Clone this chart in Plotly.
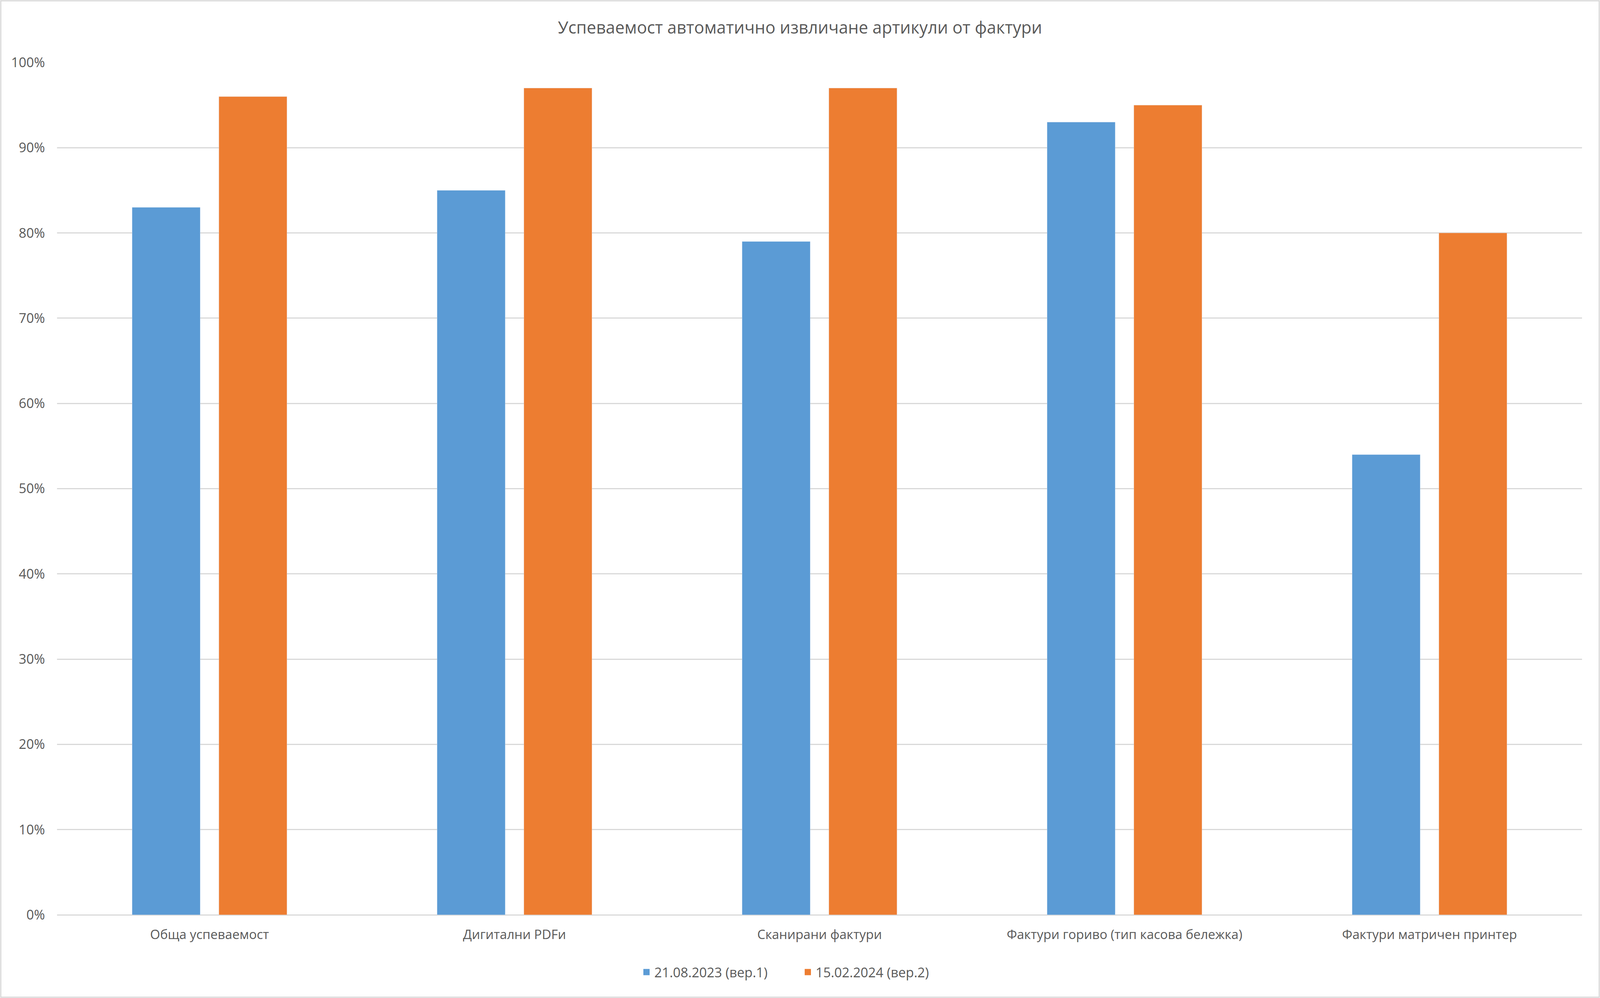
import plotly.graph_objects as go

categories = ["Обща успеваемост", "Дигитални PDFи", "Сканирани фактури",
              "Фактури гориво (тип касова бележка)", "Фактури матричен принтер"]
series_names = ["21.08.2023 (вер.1)", "15.02.2024 (вер.2)"]
series_colors = ["#5B9BD5", "#ED7D31"]
v1 = [0.83, 0.85, 0.79, 0.93, 0.54]
v2 = [0.96, 0.97, 0.97, 0.95, 0.80]
y_ticks = [0, 0.1, 0.2, 0.3, 0.4, 0.5, 0.6, 0.7, 0.8, 0.9, 1.0]

# the page viewport is 4096x2556 css px, so the figure fills that
W, H = 4096, 2556
ml, mr, mt, mb = 146, 46, 160, 213
grey_text = "#595959"
grid = "#D9D9D9"
font = "Open Sans"

fig = go.Figure()
fig.add_trace(go.Bar(x=categories, y=v1, name=series_names[0],
                     marker_color=series_colors[0], showlegend=False))
fig.add_trace(go.Bar(x=categories, y=v2, name=series_names[1],
                     marker_color=series_colors[1], showlegend=False))
# legend keys as bigger squares
for name, col in zip(series_names, series_colors):
    fig.add_trace(go.Scatter(x=[None], y=[None], mode="markers", name=name,
                             marker=dict(symbol="square", size=16, color=col)))

pw = W - ml - mr
ph = H - mt - mb
# chart-area border
fig.add_shape(type="rect", xref="paper", yref="paper",
              x0=-(ml - 2) / pw, x1=1 + (mr - 2) / pw,
              y0=-(mb - 2) / ph, y1=1 + (mt - 2) / ph,
              line=dict(color=grid, width=3), fillcolor="rgba(0,0,0,0)", layer="below")

fig.update_layout(
    width=W, height=H,
    margin=dict(l=ml, r=mr, t=mt, b=mb),
    paper_bgcolor="white", plot_bgcolor="white",
    font=dict(family=font, color=grey_text, size=34),
    barmode="group", bargap=0.431, bargroupgap=0.215,
    title=dict(text="Успеваемост автоматично извличане артикули от фактури",
               x=0.5, xref="container", xanchor="center",
               y=1 - 71 / H, yref="container", yanchor="middle",
               font=dict(size=43, color=grey_text, family=font)),
    legend=dict(orientation="h", x=0.5, xref="container", xanchor="center",
                y=1 - 2490 / H, yref="container", yanchor="middle",
                font=dict(size=34, color=grey_text), itemsizing="trace",
                entrywidth=368, entrywidthmode="pixels"),
)
fig.update_yaxes(range=[0, 1], tickvals=y_ticks, tickformat=".0%",
                 showgrid=True, gridcolor=grid, gridwidth=3,
                 zeroline=True, zerolinecolor=grid, zerolinewidth=3,
                 showline=False, ticks="", ticklabelstandoff=30,
                 tickfont=dict(size=34, color=grey_text))
fig.update_xaxes(showgrid=False, showline=False, ticks="", ticklabelstandoff=28,
                 tickfont=dict(size=33, color=grey_text))

# drop the default 8px body margin so the chart sits flush in the window
fig.write_html("out.html", config={"displayModeBar": False},
               post_script="document.body.style.margin='0';")
